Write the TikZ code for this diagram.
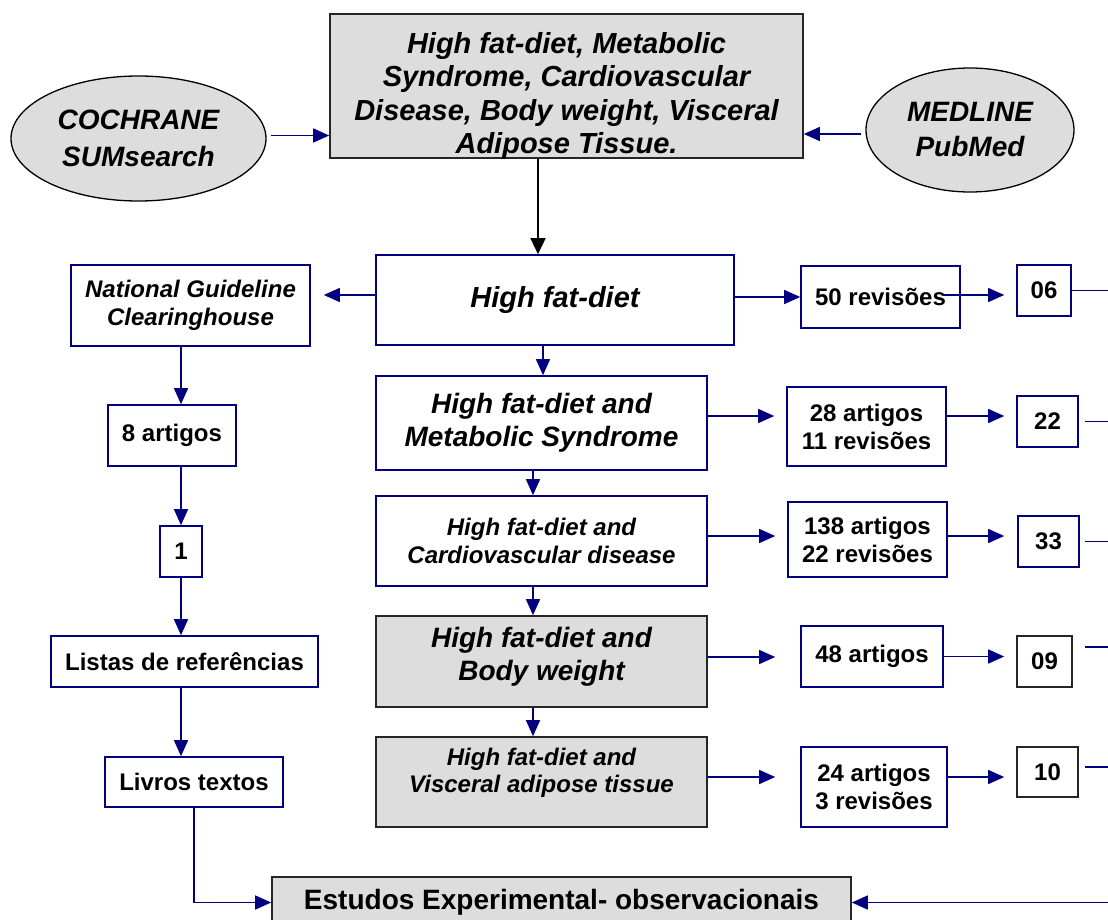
\documentclass[tikz,border=0pt]{standalone}
\usepackage{fontspec}
\setmainfont{Liberation Sans}
\usetikzlibrary{arrows.meta,shapes.geometric}
\definecolor{navy}{RGB}{0,0,128}
\definecolor{boxgray}{RGB}{221,221,221}
\tikzset{
  nbox/.style={rectangle,draw=navy,line width=1.6pt,fill=white,inner sep=0pt,align=center},
  gbox/.style={rectangle,draw=black!85,line width=1.6pt,fill=boxgray,inner sep=0pt,align=center},
  kbox/.style={rectangle,draw=black!85,line width=1.6pt,fill=white,inner sep=0pt,align=center},
  oval/.style={ellipse,draw=black,line width=1.3pt,fill=boxgray,inner sep=0pt,align=center},
  arr/.style={draw=navy,line width=1.4pt,-{Triangle[length=16pt,width=14pt]}},
  karr/.style={draw=black,line width=1.4pt,-{Triangle[length=16pt,width=15pt]}},
  ln/.style={draw=navy,line width=1.4pt},
  fbig/.style={font=\fontsize{29}{33.5}\selectfont\bfseries\itshape},
  fmid/.style={font=\fontsize{28}{32.5}\selectfont\bfseries\itshape},
  fsmall/.style={font=\fontsize{24}{27.5}\selectfont\bfseries\itshape},
  fnum/.style={font=\fontsize{24}{28}\selectfont\bfseries},
  fest/.style={font=\fontsize{28}{32}\selectfont\bfseries},
}
\begin{document}
\begin{tikzpicture}[x=1pt,y=-1pt]
\useasboundingbox (0,0) rectangle (1108,920);
\fill[white] (0,0) rectangle (1108,920);
\clip (0,0) rectangle (1108,920);

% top box with clipped text
\node[gbox,minimum width=473pt,minimum height=144pt] (top) at (566.5,86) {};
\begin{scope}
\clip (top.south west) rectangle (top.north east);
\node[fbig,align=center,inner sep=0pt] (toptext) at (566.5,96)
 {High fat-diet, Metabolic\\Syndrome, Cardiovascular\\Disease, Body weight, Visceral\\Adipose Tissue.};
\end{scope}

\node[oval,font=\fontsize{28}{37}\selectfont\bfseries\itshape,minimum width=255pt,minimum height=125pt] (cochrane) at (138.5,138.5) {COCHRANE\\SUMsearch};
\node[oval,font=\fontsize{28}{35}\selectfont\bfseries\itshape,minimum width=208pt,minimum height=124pt] (medline) at (970,130) {MEDLINE\\PubMed};

% main column
\node[nbox,fbig,minimum width=358pt,minimum height=90pt] (hfd) at (555,300) {High fat-diet};
\node[nbox,fmid,minimum width=331pt,minimum height=94pt] (met) at (541.5,423) {High fat-diet and\\Metabolic Syndrome};
\node[nbox,fsmall,minimum width=331pt,minimum height=90pt] (cv) at (541.5,541) {High fat-diet and\\Cardiovascular disease};
\node[gbox,minimum width=331pt,minimum height=91pt] (bw) at (541.5,661.5) {};
\node[fmid,align=center,inner sep=0pt] (bwt) at (541.5,657) {High fat-diet and\\Body weight};
\node[gbox,minimum width=331pt,minimum height=90pt] (vat) at (541.5,782) {};
\node[fsmall,align=center,inner sep=0pt] (vatt) at (541.5,773) {High fat-diet and\\Visceral adipose tissue};

% counts
\node[nbox,fnum,minimum width=159pt,minimum height=62pt] (r50) at (880.5,297) {50 revisões};
\node[nbox,fnum,minimum width=159pt,minimum height=79pt] (a28) at (866.5,426.5) {28 artigos\\11 revisões};
\node[nbox,fnum,minimum width=159pt,minimum height=75pt] (a138) at (867.5,539.5) {138 artigos\\22 revisões};
\node[nbox,fnum,minimum width=142pt,minimum height=61pt] (a48) at (872,656.5) {48 artigos};
\node[nbox,fnum,minimum width=146pt,minimum height=80pt] (a24) at (874,787) {24 artigos\\3 revisões};

\node[nbox,fnum,minimum width=54pt,minimum height=51pt] (b06) at (1044,290.5) {06};
\node[nbox,fnum,minimum width=61pt,minimum height=51pt] (b22) at (1047.5,421.5) {22};
\node[nbox,fnum,minimum width=61pt,minimum height=51pt] (b33) at (1048.5,541.5) {33};
\node[kbox,fnum,minimum width=55pt,minimum height=51pt] (b09) at (1044.5,661.5) {09};
\node[kbox,fnum,minimum width=61pt,minimum height=50pt] (b10) at (1047.5,772) {10};

% left column
\node[nbox,fsmall,minimum width=239pt,minimum height=81pt] (ngc) at (190.5,305.5) {National Guideline\\Clearinghouse};
\node[nbox,fnum,minimum width=128pt,minimum height=61pt] (a8) at (172,435.5) {8 artigos};
\node[nbox,fnum,minimum width=42pt,minimum height=51pt] (b1) at (181,551.5) {1};
\node[nbox,fnum,minimum width=267pt,minimum height=51pt] (listas) at (184.5,661.5) {Listas de referências};
\node[nbox,fnum,minimum width=178pt,minimum height=50pt] (livros) at (194,782) {Livros textos};

\node[gbox,fest,minimum width=579pt,minimum height=51pt] (estudos) at (561.5,902.5) {Estudos Experimental- observacionais};

% right edge coordinates
\coordinate (e06) at (1108,290.5);
\coordinate (e22) at (1108,421.5);
\coordinate (e33) at (1108,541.5);
\coordinate (e09) at (1108,647);
\coordinate (e10) at (1108,767);
\coordinate (eR) at (1108,902.5);

% connectors
\draw[arr,shorten <=4pt] ([yshift=3pt]cochrane.east) -- ([yshift=3pt]cochrane.east -| top.west);
\draw[arr,shorten <=4pt] ([yshift=-4pt]medline.west) -- ([yshift=-4pt]medline.west -| top.east);
\draw[karr] ([xshift=-28.5pt]top.south) -- ([xshift=-28.5pt]top.south |- hfd.north);

\draw[arr,shorten >=13pt] ([yshift=5pt]hfd.west) -- ([yshift=5pt]hfd.west -| ngc.east);
\draw[arr] (hfd.east |- r50.west) -- (r50.west);
\draw[arr,shorten <=-18pt,shorten >=12pt] ([yshift=2pt]r50.east) -- ([yshift=2pt]r50.east -| b06.west);
\draw[ln] (b06.east) -- (e06);

\draw[arr] ([xshift=1.5pt]met.north |- hfd.south) -- ([xshift=1.5pt]met.north);
\draw[arr] ([xshift=-8.5pt]met.south) -- ([xshift=-8.5pt]cv.north);
\draw[arr] ([xshift=-8.5pt]cv.south) -- ([xshift=-8.5pt]bw.north);
\draw[arr] ([xshift=-8.5pt]bw.south) -- ([xshift=-8.5pt]vat.north);

\draw[arr,shorten <=-2pt,shorten >=12pt] ([yshift=7pt]met.east) -- ([yshift=7pt]met.east -| a28.west);
\draw[arr,shorten >=12pt] ([yshift=10.5pt]a28.east) -- ([yshift=10.5pt]a28.east -| b22.west);
\draw[ln,shorten <=6pt] (b22.east) -- (e22);

\draw[arr,shorten <=-2pt,shorten >=12pt] ([yshift=5pt]cv.east) -- ([yshift=5pt]cv.east -| a138.west);
\draw[arr,shorten >=13pt] ([yshift=3.5pt]a138.east) -- ([yshift=3.5pt]a138.east -| b33.west);
\draw[ln,shorten <=5pt] (b33.east) -- (e33);

\draw[arr,shorten >=25pt] ([yshift=4.5pt]bw.east) -- ([yshift=4.5pt]bw.east -| a48.west);
\draw[arr,shorten >=12pt] (a48.east) -- (a48.east -| b09.west);
\draw[ln,shorten <=12pt] ([yshift=14.5pt]b09.east) -- (e09);

\draw[arr,shorten >=25pt] ([yshift=5pt]vat.east) -- ([yshift=5pt]vat.east -| a24.west);
\draw[arr,shorten >=12pt] ([yshift=10pt]a24.east) -- ([yshift=10pt]a24.east -| b10.west);
\draw[ln,shorten <=6pt] ([yshift=5pt]b10.east) -- (e10);

\draw[arr] (eR) -- (estudos.east);

\draw[arr] (b1.north |- ngc.south) -- (b1.north |- a8.north);
\draw[arr] (b1.north |- a8.south) -- (b1.north);
\draw[arr] (b1.south) -- (b1.south |- listas.north);
\draw[arr] (b1.south |- listas.south) -- (b1.south |- livros.north);
\draw[arr] (livros.south) -- (livros.south |- estudos.west) -- (estudos.west);
\end{tikzpicture}
\end{document}
